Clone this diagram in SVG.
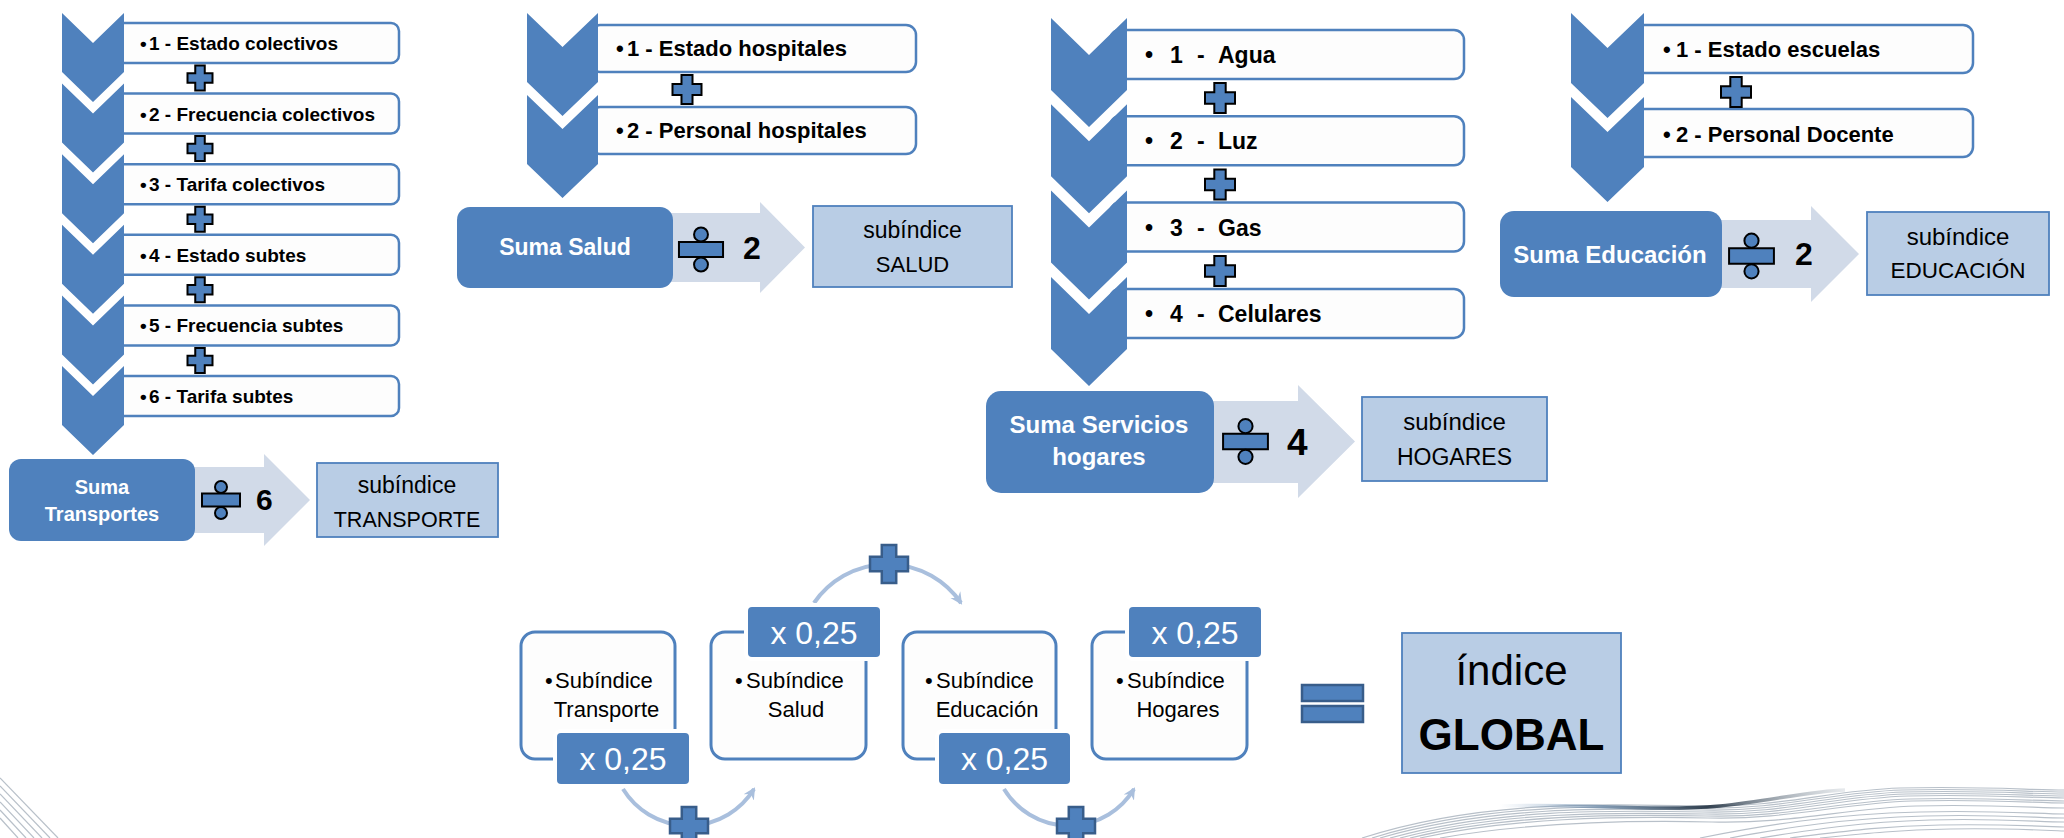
<svg xmlns="http://www.w3.org/2000/svg" xmlns:xlink="http://www.w3.org/1999/xlink" width="2064" height="838" viewBox="0 0 2064 838">
<style>
text{font-family:"Liberation Sans",Arial,sans-serif;fill:#000}
.chev{fill:#4F81BD}
.item{fill:#FDFDFD;stroke:#4F81BD;stroke-width:2.5}
.suma{fill:#4F81BD}
.sumaT{fill:#fff;font-weight:bold;text-anchor:middle}
.barrow{fill:#D1DAE8}
.sub{fill:#B9CDE5;stroke:#4F81BD;stroke-width:1.8}
.subT{text-anchor:middle}
.opK{fill:#4F81BD;stroke:#000;stroke-width:2}
.opB{fill:#4F81BD;stroke:#385D8A;stroke-width:2.5}
.b{font-weight:bold}
.card{fill:#FDFDFD;stroke:#4F81BD;stroke-width:3}
.lbl{fill:#4F81BD;stroke:#fff;stroke-width:8;paint-order:stroke}
.lblT{fill:#fff;font-size:32px;text-anchor:middle}
.cardT{font-size:22px}
.arc{fill:none;stroke:#A9BFDD;stroke-width:4}
.deco{fill:none;stroke:#B8C0C9;stroke-width:1.2}
</style>
<defs>
<path id="plus" vector-effect="non-scaling-stroke" d="M-3.8,-10 H3.8 V-3.8 H10 V3.8 H3.8 V10 H-3.8 V3.8 H-10 V-3.8 H-3.8 Z"/>
<g id="divide">
<rect x="-19" y="-6.5" width="38" height="13" vector-effect="non-scaling-stroke"/>
<circle cx="0" cy="-13" r="6" vector-effect="non-scaling-stroke"/>
<circle cx="0" cy="13" r="6" vector-effect="non-scaling-stroke"/>
</g>
<marker id="ah" markerUnits="userSpaceOnUse" markerWidth="14" markerHeight="14" refX="10" refY="7" orient="auto">
<path d="M0,1 L12,7 L0,13 L4,7 Z" fill="#A9BFDD"/>
</marker>
<linearGradient id="swoosh" x1="0" y1="0" x2="1" y2="0">
<stop offset="0" stop-color="#7FA3C8" stop-opacity="0"/>
<stop offset="0.3" stop-color="#5E7E9E" stop-opacity="0.7"/>
<stop offset="0.6" stop-color="#1F2F3F" stop-opacity="0.9"/>
<stop offset="1" stop-color="#8A98A6" stop-opacity="0.2"/>
</linearGradient>
</defs>

<g id="decoration">
<path class="deco" d="M1362,838 C1480,800 1600,804 1700,806 C1780,808 1830,790 1900,788 C1980,786 2030,790 2064,790"/>
<path class="deco" d="M1372,838 C1485,803 1602,806 1701,808 C1781,810 1832,792 1902,790 C1981,788 2031,792 2064,792"/>
<path class="deco" d="M1380,838 C1490,806 1605,808 1702,810 C1782,812 1834,794 1904,792 C1982,790 2032,794 2064,794"/>
<path class="deco" d="M1390,838 C1495,809 1607,810 1703,812 C1783,814 1836,796 1906,794 C1983,792 2033,796 2064,796"/>
<path class="deco" d="M1400,838 C1500,812 1610,812 1705,814 C1785,816 1838,798 1908,796 C1984,794 2034,798 2064,798"/>
<path class="deco" d="M1410,838 C1505,815 1612,814 1706,816 C1786,818 1840,801 1910,799 C1985,797 2035,801 2064,801"/>
<path class="deco" d="M1420,838 C1510,818 1615,816 1708,818 C1788,820 1842,803 1912,801 C1986,799 2036,803 2064,803"/>
<path class="deco" d="M1440,838 C1520,824 1620,820 1712,822 C1792,824 1846,808 1916,806 C1988,804 2038,808 2064,808"/>
<path class="deco" d="M1700,838 C1760,826 1830,814 1920,812 C1990,810 2040,814 2064,814"/>
<path class="deco" d="M1730,838 C1785,828 1845,818 1925,816 C1992,814 2040,818 2064,818"/>
<path class="deco" d="M1760,838 C1810,830 1860,822 1930,820 C1995,818 2040,822 2064,822"/>
<path class="deco" d="M1790,838 C1840,832 1880,826 1940,825 C1998,824 2040,826 2064,827"/>
<path class="deco" d="M1820,838 C1870,833 1900,830 1950,829 C2000,828 2040,830 2064,831"/>
<path fill="none" stroke="url(#swoosh)" stroke-width="3.5" d="M1500,806 C1580,803 1650,812 1720,806 C1770,801 1810,791 1845,790"/>
<path class="deco" d="M0,778 L58,838"/>
<path class="deco" d="M0,786 L50,838"/>
<path class="deco" d="M0,794 L42,838"/>
<path class="deco" d="M0,802 L34,838"/>
<path class="deco" d="M0,810 L26,838"/>
<path class="deco" d="M0,818 L18,838"/>
</g>

<g id="transporte">
<g id="transporte-items">
<rect class="item" x="116" y="23" width="283" height="40" rx="8"/>
<rect class="item" x="116" y="93.6" width="283" height="40" rx="8"/>
<rect class="item" x="116" y="164.2" width="283" height="40" rx="8"/>
<rect class="item" x="116" y="234.8" width="283" height="40" rx="8"/>
<rect class="item" x="116" y="305.4" width="283" height="40" rx="8"/>
<rect class="item" x="116" y="376" width="283" height="40" rx="8"/>
</g>
<g id="transporte-chevrons">
<path class="chev" d="M62,13 L93,43 L124,13 L124,72 L93,102 L62,72 Z"/>
<path class="chev" d="M62,83.6 L93,113.6 L124,83.6 L124,142.6 L93,172.6 L62,142.6 Z"/>
<path class="chev" d="M62,154.2 L93,184.2 L124,154.2 L124,213.2 L93,243.2 L62,213.2 Z"/>
<path class="chev" d="M62,224.8 L93,254.8 L124,224.8 L124,283.8 L93,313.8 L62,283.8 Z"/>
<path class="chev" d="M62,295.4 L93,325.4 L124,295.4 L124,354.4 L93,384.4 L62,354.4 Z"/>
<path class="chev" d="M62,366 L93,396 L124,366 L124,425 L93,455 L62,425 Z"/>
</g>
<g class="b" font-size="19">
<text y="50"><tspan x="140">•</tspan><tspan x="149">1 - Estado colectivos</tspan></text>
<text y="120.6"><tspan x="140">•</tspan><tspan x="149">2 - Frecuencia colectivos</tspan></text>
<text y="191.2"><tspan x="140">•</tspan><tspan x="149">3 - Tarifa colectivos</tspan></text>
<text y="261.8"><tspan x="140">•</tspan><tspan x="149">4 - Estado subtes</tspan></text>
<text y="332.4"><tspan x="140">•</tspan><tspan x="149">5 - Frecuencia subtes</tspan></text>
<text y="403"><tspan x="140">•</tspan><tspan x="149">6 - Tarifa subtes</tspan></text>
</g>
<use href="#plus" class="opK" transform="translate(200,78) scale(1.25)"/>
<use href="#plus" class="opK" transform="translate(200,148.6) scale(1.25)"/>
<use href="#plus" class="opK" transform="translate(200,219.2) scale(1.25)"/>
<use href="#plus" class="opK" transform="translate(200,289.8) scale(1.25)"/>
<use href="#plus" class="opK" transform="translate(200,360.4) scale(1.25)"/>
<path class="barrow" d="M190,467 H264 V454 L310,500 L264,546 V533 H190 Z"/>
<rect class="suma" x="9" y="459" width="186" height="82" rx="12"/>
<text class="sumaT" font-size="20" x="102" y="494">Suma</text>
<text class="sumaT" font-size="20" x="102" y="521">Transportes</text>
<use href="#divide" class="opK" transform="translate(221,500)"/>
<text class="b" font-size="30" x="256" y="510">6</text>
<rect class="sub" x="317" y="463" width="181" height="74"/>
<text class="subT" font-size="23" x="407" y="493">subíndice</text>
<text class="subT" font-size="21.5" x="407" y="527">TRANSPORTE</text>
</g>

<g id="salud">
<rect class="item" x="590" y="25" width="326" height="47" rx="10"/>
<rect class="item" x="590" y="107" width="326" height="47" rx="10"/>
<path class="chev" d="M527,13 L562.5,47 L598,13 L598,82 L562.5,116 L527,82 Z"/>
<path class="chev" d="M527,95 L562.5,129 L598,95 L598,164 L562.5,198 L527,164 Z"/>
<g class="b" font-size="22">
<text y="56"><tspan x="616">•</tspan><tspan x="627">1 - Estado hospitales</tspan></text>
<text y="138"><tspan x="616">•</tspan><tspan x="627">2 - Personal hospitales</tspan></text>
</g>
<use href="#plus" class="opK" transform="translate(687,89.5) scale(1.45)"/>
<path class="barrow" d="M668,213 H760 V202 L805,247.5 L760,293 V282 H668 Z"/>
<rect class="suma" x="457" y="207" width="216" height="81" rx="13"/>
<text class="sumaT" font-size="23" x="565" y="255">Suma Salud</text>
<use href="#divide" class="opK" transform="translate(701,249.5) scale(1.16)"/>
<text class="b" font-size="32" x="743" y="259">2</text>
<rect class="sub" x="813" y="206" width="199" height="81"/>
<text class="subT" font-size="23" x="912.5" y="238">subíndice</text>
<text class="subT" font-size="22" x="912.5" y="272">SALUD</text>
</g>

<g id="hogares">
<rect class="item" x="1110" y="30" width="354" height="49" rx="10"/>
<rect class="item" x="1110" y="116.3" width="354" height="49" rx="10"/>
<rect class="item" x="1110" y="202.6" width="354" height="49" rx="10"/>
<rect class="item" x="1110" y="288.9" width="354" height="49" rx="10"/>
<path class="chev" d="M1051,18 L1089,55 L1127,18 L1127,90 L1089,127 L1051,90 Z"/>
<path class="chev" d="M1051,104.3 L1089,141.3 L1127,104.3 L1127,176.3 L1089,213.3 L1051,176.3 Z"/>
<path class="chev" d="M1051,190.6 L1089,227.6 L1127,190.6 L1127,262.6 L1089,299.6 L1051,262.6 Z"/>
<path class="chev" d="M1051,276.9 L1089,313.9 L1127,276.9 L1127,348.9 L1089,385.9 L1051,348.9 Z"/>
<g class="b" font-size="23">
<text y="63"><tspan x="1145">•</tspan><tspan x="1170">1</tspan><tspan x="1197">-</tspan><tspan x="1218">Agua</tspan></text>
<text y="149.3"><tspan x="1145">•</tspan><tspan x="1170">2</tspan><tspan x="1197">-</tspan><tspan x="1218">Luz</tspan></text>
<text y="235.6"><tspan x="1145">•</tspan><tspan x="1170">3</tspan><tspan x="1197">-</tspan><tspan x="1218">Gas</tspan></text>
<text y="321.9"><tspan x="1145">•</tspan><tspan x="1170">4</tspan><tspan x="1197">-</tspan><tspan x="1218">Celulares</tspan></text>
</g>
<use href="#plus" class="opK" transform="translate(1220,98) scale(1.5)"/>
<use href="#plus" class="opK" transform="translate(1220,184.5) scale(1.5)"/>
<use href="#plus" class="opK" transform="translate(1220,271) scale(1.5)"/>
<path class="barrow" d="M1205,401 H1298 V385 L1355,441.5 L1298,498 V483 H1205 Z"/>
<rect class="suma" x="986" y="391" width="228" height="102" rx="15"/>
<text class="sumaT" font-size="24" x="1099" y="433">Suma Servicios</text>
<text class="sumaT" font-size="24" x="1099" y="465">hogares</text>
<use href="#divide" class="opK" transform="translate(1245.5,441.5) scale(1.18)"/>
<text class="b" font-size="37" x="1287" y="455">4</text>
<rect class="sub" x="1362" y="397" width="185" height="84"/>
<text class="subT" font-size="24" x="1454.5" y="430">subíndice</text>
<text class="subT" font-size="23" x="1454.5" y="465">HOGARES</text>
</g>

<g id="educacion">
<rect class="item" x="1630" y="25" width="343" height="48" rx="10"/>
<rect class="item" x="1630" y="109" width="343" height="48" rx="10"/>
<path class="chev" d="M1571,13 L1607.5,48 L1644,13 L1644,83 L1607.5,118 L1571,83 Z"/>
<path class="chev" d="M1571,97 L1607.5,132 L1644,97 L1644,167 L1607.5,202 L1571,167 Z"/>
<g class="b" font-size="22">
<text y="57"><tspan x="1663">•</tspan><tspan x="1676">1 - Estado escuelas</tspan></text>
<text y="142"><tspan x="1663">•</tspan><tspan x="1676">2 - Personal Docente</tspan></text>
</g>
<use href="#plus" class="opK" transform="translate(1736,92) scale(1.5)"/>
<path class="barrow" d="M1715,220 H1811 V206 L1859,254 L1811,302 V288 H1715 Z"/>
<rect class="suma" x="1500" y="211" width="222" height="86" rx="14"/>
<text class="sumaT" font-size="24" x="1610" y="263">Suma Educación</text>
<use href="#divide" class="opK" transform="translate(1751.5,256) scale(1.18)"/>
<text class="b" font-size="32" x="1795" y="265">2</text>
<rect class="sub" x="1867" y="212" width="182" height="83"/>
<text class="subT" font-size="24" x="1958" y="245">subíndice</text>
<text class="subT" font-size="22.5" x="1958" y="278">EDUCACIÓN</text>
</g>

<g id="connectors">
<path class="arc" d="M623,789 A77,77 0 0 0 754,789" marker-end="url(#ah)"/>
<path class="arc" d="M814,603 A89,89 0 0 1 961,603" marker-end="url(#ah)"/>
<path class="arc" d="M1004,789 A76,76 0 0 0 1134,789" marker-end="url(#ah)"/>
<use href="#plus" class="opB" transform="translate(689,826) scale(1.9)"/>
<use href="#plus" class="opB" transform="translate(889,564) scale(1.9)"/>
<use href="#plus" class="opB" transform="translate(1076,826) scale(1.9)"/>
</g>

<g id="card-transporte">
<rect class="card" x="521" y="632" width="154" height="127" rx="14"/>
<text class="cardT" y="688"><tspan x="545">•</tspan><tspan x="555">Subíndice</tspan></text>
<text class="cardT" x="606.5" y="717" text-anchor="middle">Transporte</text>
<rect class="lbl" x="557" y="733" width="132" height="51" rx="4"/>
<text class="lblT" x="623" y="770">x 0,25</text>
</g>

<g id="card-salud">
<rect class="card" x="711" y="632" width="155" height="127" rx="14"/>
<text class="cardT" y="688"><tspan x="735">•</tspan><tspan x="746">Subíndice</tspan></text>
<text class="cardT" x="796" y="717" text-anchor="middle">Salud</text>
<rect class="lbl" x="748" y="607" width="132" height="50" rx="4"/>
<text class="lblT" x="814" y="644">x 0,25</text>
</g>

<g id="card-educacion">
<rect class="card" x="903" y="632" width="153" height="127" rx="14"/>
<text class="cardT" y="688"><tspan x="925">•</tspan><tspan x="936">Subíndice</tspan></text>
<text class="cardT" x="987" y="717" text-anchor="middle">Educación</text>
<rect class="lbl" x="939" y="733" width="131" height="51" rx="4"/>
<text class="lblT" x="1004.5" y="770">x 0,25</text>
</g>

<g id="card-hogares">
<rect class="card" x="1092" y="632" width="155" height="127" rx="14"/>
<text class="cardT" y="688"><tspan x="1116">•</tspan><tspan x="1127">Subíndice</tspan></text>
<text class="cardT" x="1178" y="717" text-anchor="middle">Hogares</text>
<rect class="lbl" x="1129" y="607" width="132" height="50" rx="4"/>
<text class="lblT" x="1195" y="644">x 0,25</text>
</g>

<g id="equals">
<rect class="opB" x="1302" y="685" width="61" height="16"/>
<rect class="opB" x="1302" y="706" width="61" height="16"/>
</g>

<g id="indice-global">
<rect class="sub" x="1402" y="633" width="219" height="140"/>
<text class="subT" font-size="42" x="1511.5" y="685">índice</text>
<text class="subT b" font-size="44" x="1511.5" y="750">GLOBAL</text>
</g>
</svg>
